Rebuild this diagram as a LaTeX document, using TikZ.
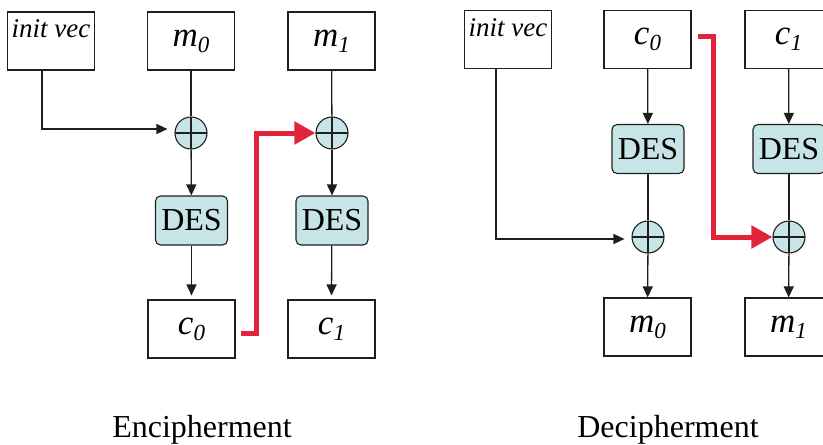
\documentclass[tikz,border=0pt]{standalone}
\usepackage{fontspec}
\setmainfont{Liberation Serif}
\usetikzlibrary{arrows.meta}
\definecolor{desfill}{RGB}{199,229,231}
\definecolor{cbcred}{RGB}{227,35,58}
\definecolor{ln}{RGB}{30,30,30}
\newcommand{\symsub}[2]{\textit{#1}\raisebox{-6pt}{\fontsize{23}{23}\selectfont\textit{#2}}}
\tikzset{
  box/.style={draw=ln, line width=1.1pt, minimum width=87pt, minimum height=58pt, inner sep=0pt, font=\fontsize{35}{38}\selectfont},
  desbox/.style={draw=ln, fill=desfill, rounded corners=5pt, line width=1.1pt, minimum width=72pt, minimum height=49pt, inner sep=0pt, font=\fontsize{32}{36}\selectfont},
  xorc/.style={circle, draw=ln, fill=desfill, minimum size=32pt, inner sep=0pt, line width=1.1pt,
    path picture={\draw[ln, line width=1.1pt] (path picture bounding box.north) -- (path picture bounding box.south) (path picture bounding box.west) -- (path picture bounding box.east);}},
  arr/.style={draw=ln, line width=1.3pt, -{Triangle[length=11pt,width=10pt]}},
  conn/.style={draw=ln, line width=1.3pt},
  redarr/.style={draw=cbcred, line width=5pt, -{Triangle[length=21pt,width=22pt]}},
  title/.style={font=\fontsize{32}{36}\selectfont, anchor=base}
}
\begin{document}
\begin{tikzpicture}[x=1pt,y=-1pt]
\useasboundingbox (0,0) rectangle (823,445);
% ---------- Encipherment ----------
\node[box] (iv1) at (51,41) {};
\node[anchor=north, inner sep=0pt, font=\fontsize{27}{29}\selectfont] (iv1t) at ([yshift=-8pt]iv1.north) {\textit{init vec}};
\node[box] (m0) at (191,41) {\symsub{m}{0}};
\node[box] (m1) at (331.5,41) {\symsub{m}{1}};
\node[xorc] (x0) at (191,133) {};
\node[xorc] (x1) at (332,133) {};
\node[desbox] (d0) at (191.5,220.5) {DES};
\node[desbox] (d1) at (332,220.5) {DES};
\node[box] (c0) at (191.5,329) {\symsub{c}{0}};
\node[box] (c1) at (331.5,329) {\symsub{c}{1}};
\draw[conn] (m0) -- (x0);
\draw[conn] (m1) -- (x1);
\draw[arr] (x0) -- (d0);
\draw[arr] (x1) -- (d1);
\draw[arr] (d0) -- ([yshift=4pt]c0.north);
\draw[arr] (d1) -- ([yshift=4pt]c1.north);
\draw[arr] ([xshift=-9pt]iv1.south) |- ([xshift=-7pt,yshift=4pt]x0.west);
\coordinate (r0s) at ([xshift=5pt,yshift=-4pt]c0.east);
\coordinate (r0c) at (256,0);
\draw[redarr] (r0s) -| (r0c |- x1.west) -- (x1.west);
\node[title] (enc) at (202,437) {Encipherment};
% ---------- Decipherment ----------
\node[box] (iv2) at (508,39.5) {};
\node[anchor=north, inner sep=0pt, font=\fontsize{27}{29}\selectfont] (iv2t) at ([yshift=-8pt]iv2.north) {\textit{init vec}};
\node[box] (c0r) at (647.5,39.5) {\symsub{c}{0}};
\node[box] (c1r) at (788.5,39.5) {\symsub{c}{1}};
\node[desbox] (d2) at (648,149) {DES};
\node[desbox] (d3) at (789,149) {DES};
\node[xorc] (x2) at (648,237) {};
\node[xorc] (x3) at (789,237) {};
\node[box] (m0r) at (647.5,327) {\symsub{m}{0}};
\node[box] (m1r) at (788.5,327) {\symsub{m}{1}};
\draw[arr] (c0r) -- (d2);
\draw[arr] (c1r) -- (d3);
\draw[conn] (d2) -- (x2);
\draw[conn] (d3) -- (x3);
\draw[arr] (x2) -- (m0r);
\draw[arr] (x3) -- (m1r);
\draw[arr] ([xshift=-12pt]iv2.south) |- ([xshift=-7pt,yshift=-2pt]x2.west);
\coordinate (r1s) at ([xshift=6pt,yshift=3.5pt]c0r.east);
\coordinate (r1c) at (713,0);
\draw[redarr] (r1s) -| (r1c |- x3.west) -- (x3.west);
\node[title] (dec) at (668,437) {Decipherment};
\end{tikzpicture}
\end{document}
